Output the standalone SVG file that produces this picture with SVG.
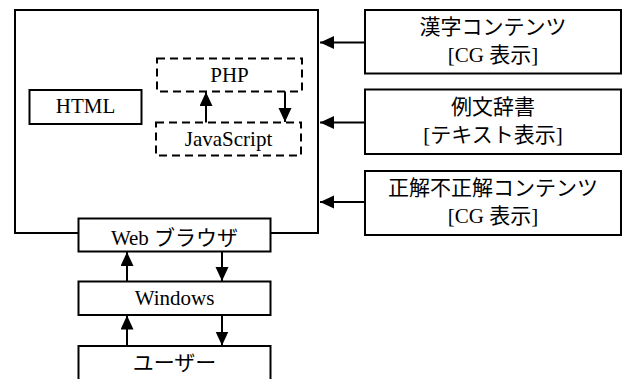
<svg xmlns="http://www.w3.org/2000/svg" width="622" height="379" viewBox="0 0 622 379">
<defs>
<style>
rect.b{fill:#fff;stroke:#000;stroke-width:2}
rect.d{fill:none;stroke:#000;stroke-width:2;stroke-dasharray:8 5}
text{font-family:"Liberation Serif","Noto Sans CJK JP",serif;font-size:21px;fill:#000;text-anchor:middle}
line{stroke:#000;stroke-width:2}
</style>
<marker id="ah" markerUnits="userSpaceOnUse" markerWidth="15" markerHeight="14" refX="14" refY="6.5" orient="auto">
<path d="M0,0 L14,6.5 L0,13 z" fill="#000"/>
</marker>
</defs>
<rect width="622" height="379" fill="#fff"/>
<g id="browser-area">
<rect class="b" x="15" y="10" width="303" height="223"/>
</g>
<g id="html">
<rect class="b" x="29.5" y="90" width="112" height="34"/>
<text x="85.5" y="113">HTML</text>
</g>
<g id="php">
<rect class="d" x="157" y="58.5" width="145" height="33"/>
<text x="229.5" y="81.5">PHP</text>
</g>
<g id="javascript">
<rect class="d" x="156" y="122.5" width="145" height="33"/>
<text x="228.5" y="145.5">JavaScript</text>
</g>
<g id="kanji">
<rect class="b" x="365" y="10" width="256" height="63.5"/>
<text x="493" y="34">漢字コンテンツ</text>
<text x="493" y="62">[CG 表示]</text>
</g>
<g id="reibun">
<rect class="b" x="365" y="89.5" width="256" height="64.5"/>
<text x="493" y="114">例文辞書</text>
<text x="493" y="142">[テキスト表示]</text>
</g>
<g id="seikai">
<rect class="b" x="365" y="171" width="256" height="64"/>
<text x="493" y="195">正解不正解コンテンツ</text>
<text x="493" y="223">[CG 表示]</text>
</g>
<g id="web-browser">
<rect class="b" x="78.5" y="218.5" width="192" height="33"/>
<text x="174.5" y="244.5">Web ブラウザ</text>
</g>
<g id="windows">
<rect class="b" x="78.5" y="281.5" width="192" height="33.5"/>
<text x="174.5" y="305">Windows</text>
</g>
<g id="user">
<rect class="b" x="78.5" y="346" width="192" height="50"/>
<text x="174.5" y="370">ユーザー</text>
</g>
<g id="connectors">
<line x1="206" y1="122.5" x2="206" y2="92" marker-end="url(#ah)"/>
<line x1="285" y1="91.5" x2="285" y2="122" marker-end="url(#ah)"/>
<line x1="365" y1="42.5" x2="320" y2="42.5" marker-end="url(#ah)"/>
<line x1="365" y1="122.5" x2="320" y2="122.5" marker-end="url(#ah)"/>
<line x1="365" y1="202" x2="320" y2="202" marker-end="url(#ah)"/>
<line x1="127" y1="281.5" x2="127" y2="252" marker-end="url(#ah)"/>
<line x1="222" y1="251.5" x2="222" y2="281" marker-end="url(#ah)"/>
<line x1="127" y1="346" x2="127" y2="315.5" marker-end="url(#ah)"/>
<line x1="222" y1="315" x2="222" y2="345.5" marker-end="url(#ah)"/>
</g>
</svg>
